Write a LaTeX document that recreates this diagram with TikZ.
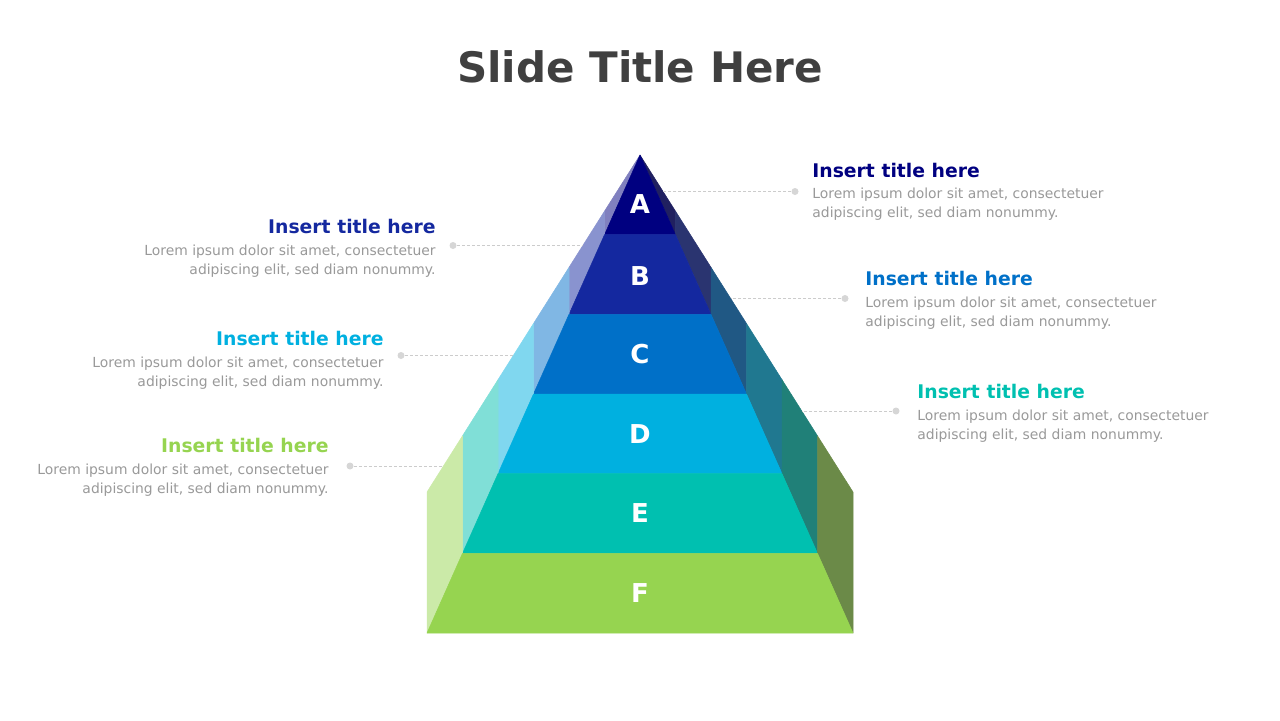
\documentclass[tikz,border=0pt]{standalone}
\usepackage{fontspec}
\setmainfont{DejaVu Sans}
\definecolor{cA}{HTML}{000080}
\definecolor{cB}{HTML}{14289F}
\definecolor{cC}{HTML}{0070C8}
\definecolor{cD}{HTML}{00B0E0}
\definecolor{cE}{HTML}{00C0B0}
\definecolor{cF}{HTML}{96D450}
\definecolor{dk}{HTML}{404040}
\definecolor{bodygray}{HTML}{999999}
\definecolor{dotgray}{HTML}{D6D6D6}
\definecolor{linegray}{HTML}{CCCCCC}
\begin{document}
\begin{tikzpicture}[x=0.5pt,y=-0.5pt,
  lab/.style={inner sep=0pt,text=white,font=\fontsize{13pt}{15pt}\selectfont\bfseries},
  ttl/.style={inner sep=0pt,font=\fontsize{9.4pt}{11pt}\selectfont\bfseries},
  body/.style={inner sep=0pt,text=bodygray,font=\fontsize{6.95pt}{8pt}\selectfont},
  dot/.style={circle,fill=dotgray,inner sep=0pt,minimum size=3.5pt},
  lead/.style={draw=linegray,line width=0.4pt,dash pattern=on 1.5pt off 1pt},
  face/.style={fill=#1,draw=#1,line width=0.25pt,line join=round}]
\useasboundingbox (0,0) rectangle (1280,720);
% pyramid
\foreach \j/\c in {1/cA,2/cB,3/cC,4/cD,5/cE,6/cF}{
  \pgfmathsetmacro\ya{155+478/6*(\j-1)}
  \pgfmathsetmacro\yb{155+478/6*\j}
  \pgfmathsetmacro\wa{35.5*(\j-1)}
  \pgfmathsetmacro\wb{35.5*\j}
  \pgfmathsetmacro\ta{155+337/6*(\j-1)}
  \pgfmathsetmacro\tb{155+337/6*\j}
  \path[face=\c!50!white] ({640-\wb},{\yb}) -- ({640-\wa},{\ya}) -- ({640-\wa},{\ta}) -- ({640-\wb},{\tb}) -- cycle;
  \path[face=\c!50!dk] ({640+\wb},{\yb}) -- ({640+\wa},{\ya}) -- ({640+\wa},{\ta}) -- ({640+\wb},{\tb}) -- cycle;
  \path[face=\c] ({640-\wa},{\ya}) -- ({640+\wa},{\ya}) -- ({640+\wb},{\yb}) -- ({640-\wb},{\yb}) -- cycle;
}
% letters
\node[lab] (lA) at (640,204) {A};
\node[lab] (lB) at (640,276) {B};
\node[lab] (lC) at (640,354) {C};
\node[lab] (lD) at (640,434) {D};
\node[lab] (lE) at (640,513.5) {E};
\node[lab] (lF) at (640,593.5) {F};
% main title
\node[inner sep=0pt,anchor=base,text=dk,font=\fontsize{21pt}{25pt}\selectfont\bfseries] (title) at (640,82) {Slide Title Here};
% entry A (right)
\node[ttl,text=cA,anchor=base west] (tA) at (812,177) {Insert title here};
\node[body,anchor=base west] (bA1) at (812,198.5) {Lorem ipsum dolor sit amet, consectetuer};
\node[body,anchor=base west] (bA2) at (812,217.5) {adipiscing elit, sed diam nonummy.};
\node[dot] (dA) at (795,191.5) {};
\coordinate (eA) at (663,191.5);
\draw[lead] (dA) -- (eA);
% entry B (left)
\node[ttl,text=cB,anchor=base east] (tB) at (436,233.5) {Insert title here};
\node[body,anchor=base east] (bB1) at (436,255.5) {Lorem ipsum dolor sit amet, consectetuer};
\node[body,anchor=base east] (bB2) at (436,274.5) {adipiscing elit, sed diam nonummy.};
\node[dot] (dB) at (453,245.5) {};
\coordinate (eB) at (583,245.5);
\draw[lead] (dB) -- (eB);
% entry C (right)
\node[ttl,text=cC,anchor=base west] (tC) at (865,285.5) {Insert title here};
\node[body,anchor=base west] (bC1) at (865,307.5) {Lorem ipsum dolor sit amet, consectetuer};
\node[body,anchor=base west] (bC2) at (865,326.5) {adipiscing elit, sed diam nonummy.};
\node[dot] (dC) at (845,298.5) {};
\coordinate (eC) at (731,298.5);
\draw[lead] (dC) -- (eC);
% entry D (left)
\node[ttl,text=cD,anchor=base east] (tD) at (384,345.5) {Insert title here};
\node[body,anchor=base east] (bD1) at (384,367.5) {Lorem ipsum dolor sit amet, consectetuer};
\node[body,anchor=base east] (bD2) at (384,386.5) {adipiscing elit, sed diam nonummy.};
\node[dot] (dD) at (401,355.5) {};
\coordinate (eD) at (513.5,355.5);
\draw[lead] (dD) -- (eD);
% entry E (right)
\node[ttl,text=cE,anchor=base west] (tE) at (917,398.5) {Insert title here};
\node[body,anchor=base west] (bE1) at (917,420) {Lorem ipsum dolor sit amet, consectetuer};
\node[body,anchor=base west] (bE2) at (917,439) {adipiscing elit, sed diam nonummy.};
\node[dot] (dE) at (896,411) {};
\coordinate (eE) at (802,411);
\draw[lead] (dE) -- (eE);
% entry F (left)
\node[ttl,text=cF,anchor=base east] (tF) at (329,452.5) {Insert title here};
\node[body,anchor=base east] (bF1) at (329,474.5) {Lorem ipsum dolor sit amet, consectetuer};
\node[body,anchor=base east] (bF2) at (329,493.5) {adipiscing elit, sed diam nonummy.};
\node[dot] (dF) at (350,466) {};
\coordinate (eF) at (443.5,466);
\draw[lead] (dF) -- (eF);
\end{tikzpicture}
\end{document}
